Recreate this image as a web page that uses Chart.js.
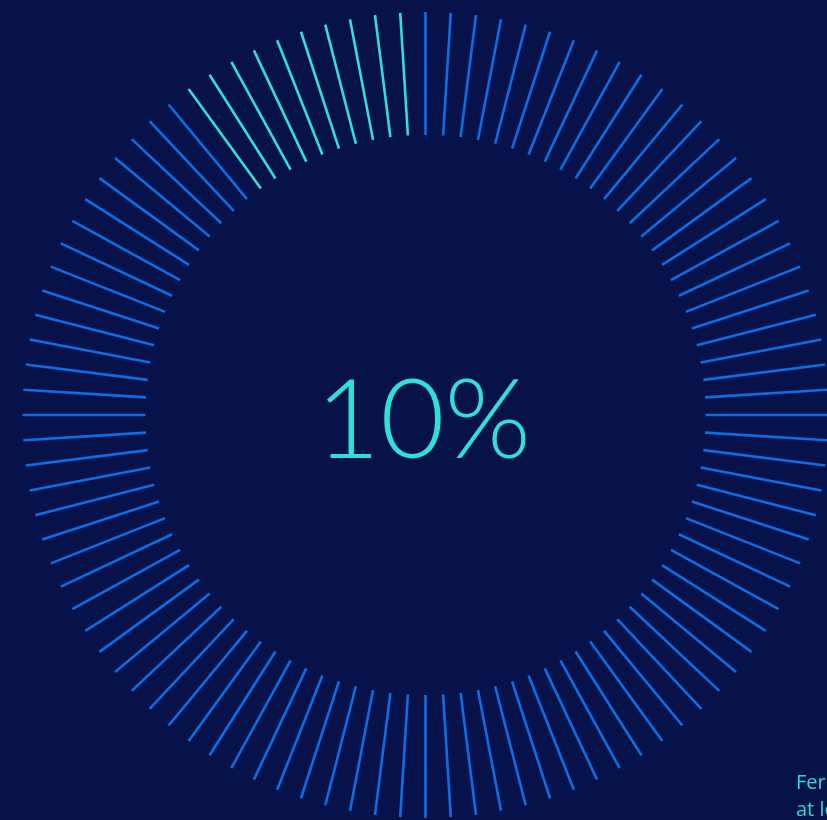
<!DOCTYPE html>
<html>
<head>
<meta charset="utf-8">
<script src="https://cdn.jsdelivr.net/npm/chart.js@4.4.1/dist/chart.umd.min.js"></script>
<style>
  html, body { margin: 0; padding: 0; background: #07114a; overflow: hidden; }
  #wrap { position: relative; width: 827px; height: 820px; }
  #note {
    position: absolute; left: 796px; top: 768px; width: 200px;
    font-family: "Open Sans", "Noto Sans", sans-serif; font-size: 20px; line-height: 27px;
    color: #2fd9d4; white-space: nowrap;
  }
</style>
</head>
<body>
<div id="wrap">
  <canvas id="gauge"></canvas>
  <div id="note">Fermented in tanks<br>at least a year</div>
</div>
<script>
// Gauge value and tick layout
const percentValue = [10];
const tickCount = [100];
const ringRadius = { inner: 0.695, outer: 1 };
const colors = { background: '#07114a', track: '#0a6fe6', fill: '#2fe0d6' };

// Each tick is a radial segment; ticks run counter-clockwise from twelve o'clock
function tickSegments(filled) {
  const pts = [];
  const n = tickCount[0];
  for (let i = 1; i <= n; i++) {
    const isFilled = i <= percentValue[0] * n / 100;
    if (isFilled !== filled) continue;
    const a = Math.PI / 2 + i * 2 * Math.PI / n;
    pts.push({ x: ringRadius.inner * Math.cos(a), y: ringRadius.inner * Math.sin(a) });
    pts.push({ x: ringRadius.outer * Math.cos(a), y: ringRadius.outer * Math.sin(a) });
    pts.push({ x: 0, y: null });
  }
  return pts;
}

const centerLabel = {
  id: 'centerLabel',
  afterDatasetsDraw(chart) {
    const { ctx, scales } = chart;
    const cx = scales.x.getPixelForValue(0);
    const cy = scales.y.getPixelForValue(0);
    ctx.save();
    ctx.fillStyle = colors.fill;
    ctx.font = '300 111px Lato, Inter, sans-serif';
    ctx.textAlign = 'center';
    ctx.textBaseline = 'alphabetic';
    ctx.fillText(percentValue[0] + '%', cx - 2, cy + 43);
    ctx.restore();
  }
};

new Chart(document.getElementById('gauge'), {
  type: 'scatter',
  data: {
    datasets: [
      { data: tickSegments(false), showLine: true, spanGaps: false, borderColor: colors.track, borderWidth: 2.6, pointRadius: 0, borderCapStyle: 'butt', order: 2 },
      { data: tickSegments(true), showLine: true, spanGaps: false, borderColor: colors.fill, borderWidth: 2.6, pointRadius: 0, borderCapStyle: 'butt', order: 1 }
    ]
  },
  options: {
    responsive: true,
    maintainAspectRatio: false,
    animation: false,
    layout: { padding: 0 },
    plugins: { legend: { display: false }, tooltip: { enabled: false } },
    scales: {
      x: { display: false, min: -425.5 / 403, max: 401.5 / 403 },
      y: { display: false, min: -405 / 403, max: 415 / 403 }
    }
  },
  plugins: [centerLabel]
});
</script>
</body>
</html>
